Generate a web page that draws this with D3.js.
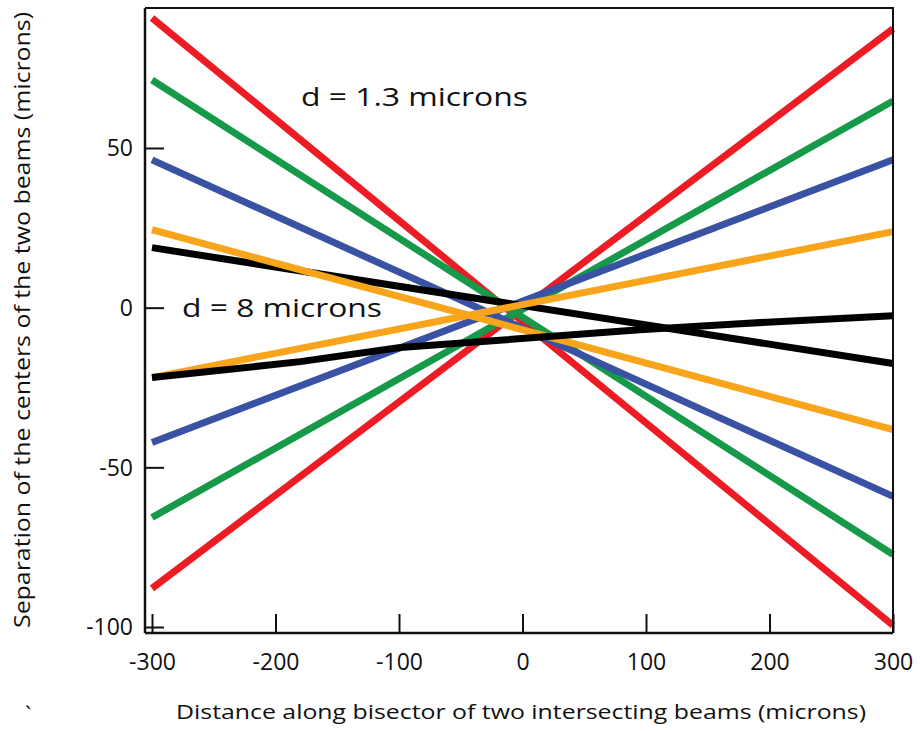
<!DOCTYPE html>
<html>
<head>
<meta charset="utf-8">
<script src="https://cdn.jsdelivr.net/npm/d3@7"></script>
<style>
  html, body { margin: 0; padding: 0; background: #fff; }
  svg { display: block; }
  text { font-family: "Open Sans", "Noto Sans", sans-serif; fill: #111; }
</style>
</head>
<body>
<svg id="chart" width="920" height="731"></svg>
<script>
// Positions along the bisector (microns) where each line is sampled
const positions = [-300, 300];
const blackUpPositions = [-300, -180, -99, 95, 176, 300];

// Separation of the beam centres (microns)
const redDown    = [90.7, -99.5];
const redUp      = [-87.9, 87.3];
const greenDown  = [71.3, -77.3];
const greenUp    = [-65.7, 64.7];
const blueDown   = [46.3, -59.1];
const blueUp     = [-42.2, 46.3];
const orangeDown = [24.4, -38.2];
const orangeUp   = [-21.9, 23.8];
const blackDown  = [18.8, -17.5];
const blackUp    = [-21.9, -16.9, -12.5, -6.9, -5.0, -2.5];

const xTicks = [-300, -200, -100, 0, 100, 200, 300];
const yTicks = [50, 0, -50, -100];

const colors = {
  red: "#ed1c24",
  green: "#17994a",
  blue: "#3a52a3",
  orange: "#f9a51b",
  black: "#000000"
};

// Drawing order, back to front
const series = [
  { xs: positions, values: redDown,    color: colors.red },
  { xs: positions, values: redUp,      color: colors.red },
  { xs: positions, values: greenDown,  color: colors.green },
  { xs: positions, values: greenUp,    color: colors.green },
  { xs: positions, values: blueDown,   color: colors.blue },
  { xs: positions, values: blueUp,     color: colors.blue },
  { xs: positions, values: blackDown,  color: colors.black },
  { xs: positions, values: orangeDown, color: colors.orange },
  { xs: positions, values: orangeUp,   color: colors.orange },
  { xs: blackUpPositions, values: blackUp, color: colors.black }
];

const svg = d3.select("#chart");

// Frame edges of the plotting box
const frame = { left: 145, right: 893, top: 8, bottom: 633 };

const x = d3.scaleLinear().domain([-300, 300]).range([152, 893]);
const y = d3.scaleLinear().domain([50, -100]).range([148, 627]);

const lineFor = s => d3.line()
  .x((d, i) => x(s.xs[i]))
  .y(d => y(d))(s.values);

// Data lines
svg.append("g")
  .selectAll("path")
  .data(series)
  .join("path")
  .attr("d", d => lineFor(d))
  .attr("fill", "none")
  .attr("stroke", d => d.color)
  .attr("stroke-width", 7)
  .attr("stroke-linecap", "butt")
  .attr("stroke-linejoin", "round");

// Frame: top and right edges
svg.append("path")
  .attr("d", `M${frame.left},${frame.top}H${frame.right}V${frame.bottom}`)
  .attr("fill", "none")
  .attr("stroke", "#111")
  .attr("stroke-width", 2);

const plain = d => String(d);

// Bottom axis with inward ticks
const xAxis = d3.axisBottom(x)
  .tickValues(xTicks)
  .tickSize(-19)
  .tickPadding(0)
  .tickFormat(plain);

const gx = svg.append("g")
  .attr("transform", `translate(0,${frame.bottom})`)
  .call(xAxis);
gx.select(".domain").remove();
gx.selectAll(".tick line").attr("stroke", "#111").attr("stroke-width", 2);
gx.selectAll(".tick text")
  .attr("fill", "#111")
  .attr("font-family", "'Open Sans', sans-serif")
  .attr("font-size", 23)
  .attr("dy", 0)
  .attr("y", 37)
  .attr("text-anchor", "middle");

svg.append("line")
  .attr("x1", frame.left).attr("x2", frame.right)
  .attr("y1", frame.bottom).attr("y2", frame.bottom)
  .attr("stroke", "#111").attr("stroke-width", 2.5);

// Left axis with inward ticks
const yAxis = d3.axisLeft(y)
  .tickValues(yTicks)
  .tickSize(-19)
  .tickPadding(12)
  .tickFormat(plain);

const gy = svg.append("g")
  .attr("transform", `translate(${frame.left},0)`)
  .call(yAxis);
gy.select(".domain").remove();
gy.selectAll(".tick line").attr("stroke", "#111").attr("stroke-width", 2);
gy.selectAll(".tick text")
  .attr("fill", "#111")
  .attr("font-family", "'Open Sans', sans-serif")
  .attr("font-size", 23)
  .attr("x", -12)
  .attr("dy", "0.34em")
  .attr("text-anchor", "end");

svg.append("line")
  .attr("x1", frame.left).attr("x2", frame.left)
  .attr("y1", frame.top).attr("y2", frame.bottom)
  .attr("stroke", "#111").attr("stroke-width", 2.5);

// Curve labels
svg.append("text")
  .attr("x", 301).attr("y", 106)
  .attr("font-size", 25)
  .attr("textLength", 227)
  .attr("lengthAdjust", "spacingAndGlyphs")
  .text("d = 1.3 microns");

svg.append("text")
  .attr("x", 182).attr("y", 317)
  .attr("font-size", 25)
  .attr("textLength", 200)
  .attr("lengthAdjust", "spacingAndGlyphs")
  .text("d = 8 microns");

// Axis titles
svg.append("text")
  .attr("x", 176).attr("y", 719)
  .attr("font-size", 20)
  .attr("textLength", 690)
  .attr("lengthAdjust", "spacingAndGlyphs")
  .text("Distance along bisector of two intersecting beams (microns)");

svg.append("text")
  .attr("transform", "translate(30,628) rotate(-90)")
  .attr("font-size", 21)
  .attr("textLength", 616)
  .attr("lengthAdjust", "spacingAndGlyphs")
  .text("Separation of the centers of the two beams (microns)");

svg.append("text")
  .attr("x", 25).attr("y", 722)
  .attr("font-size", 22)
  .text("`");
</script>
</body>
</html>
